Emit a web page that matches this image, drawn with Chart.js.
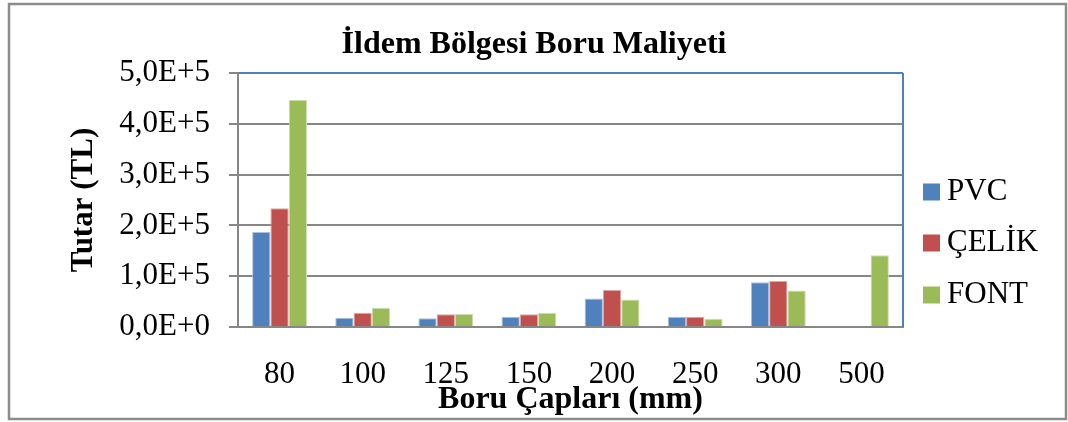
<!DOCTYPE html>
<html lang="tr">
<head>
    <title>İldem Bölgesi Boru Maliyeti</title>
    <meta charset="utf-8">
    <style>
        html, body { margin: 0; padding: 0; background: #ffffff; }
        #wrap { position: absolute; left: 0; top: 0; width: 1068px; height: 422px; }
    </style>
</head>
<body>
    <div id="wrap">
        <canvas id="boruChart" width="1068" height="422"></canvas>
    </div>

    <script src="https://cdn.jsdelivr.net/npm/chart.js"></script>
    <script>
        // Veriler
        const categories = ['80', '100', '125', '150', '200', '250', '300', '500'];
        const seriesNames = ['PVC', 'ÇELİK', 'FONT'];
        const pvc = [187000, 18000, 17000, 20000, 56000, 20000, 88000, null];
        const celik = [234000, 28000, 25000, 25000, 73000, 20000, 90500, null];
        const font = [447500, 38000, 26000, 28000, 54000, 16000, 72000, 141000];
        const yMin = 0;
        const yMax = 500000;
        const yStep = 100000;

        const colors = ['#4f81bd', '#c0504d', '#9bbb59'];
        const edges = ['#a9c1de', '#dea7a6', '#cfdfb0'];
        const serif = 'Liberation Serif, Times New Roman, serif';

        // 5,0E+5 gibi bilimsel yazim
        function sciLabel(v) {
            if (v === 0) return '0,0E+0';
            const e = Math.floor(Math.log10(v));
            const m = v / Math.pow(10, e);
            return m.toFixed(1).replace('.', ',') + 'E+' + e;
        }

        // dis cerceve + sag kenar + elle lejant
        const frame = {
            id: 'frame',
            beforeDraw(chart) {
                const c = chart.ctx;
                c.save();
                c.strokeStyle = '#8c8c8c';
                c.lineWidth = 2.5;
                c.strokeRect(9, 4, 1057, 415);
                c.restore();
            },
            beforeDatasetsDraw(chart) {
                const a = chart.chartArea;
                const c = chart.ctx;
                c.save();
                c.strokeStyle = '#4f81bd';
                c.lineWidth = 2;
                c.beginPath();
                c.moveTo(a.right, a.top);
                c.lineTo(a.right, a.bottom);
                c.stroke();
                c.restore();
            },
            afterDraw(chart) {
                const c = chart.ctx;
                const rows = [192, 243, 295];
                c.save();
                c.font = '31px ' + serif;
                c.textBaseline = 'middle';
                chart.data.datasets.forEach((ds, i) => {
                    c.fillStyle = ds.backgroundColor;
                    c.fillRect(923, rows[i] - 8.5, 17, 17);
                    c.fillStyle = '#000000';
                    c.fillText(ds.label, 947, rows[i]);
                });
                c.restore();
            }
        };

        const datasets = [pvc, celik, font].map((vals, i) => ({
            label: seriesNames[i],
            data: vals,
            backgroundColor: colors[i],
            borderColor: edges[i],
            borderWidth: 1,
            categoryPercentage: 0.66,
            barPercentage: 1.0
        }));

        new Chart(document.getElementById('boruChart'), {
            type: 'bar',
            data: {
                labels: categories,
                datasets: datasets
            },
            plugins: [frame],
            options: {
                responsive: false,
                animation: false,
                layout: {
                    padding: 0
                },
                plugins: {
                    legend: { display: false },
                    tooltip: { enabled: false },
                    title: {
                        display: true,
                        text: 'İldem Bölgesi Boru Maliyeti',
                        color: '#000000',
                        font: { family: serif, size: 32, weight: 'bold' },
                        padding: { top: 25.8, bottom: 8.8 }
                    }
                },
                scales: {
                    x: {
                        grid: { display: false, drawTicks: false, tickLength: 0 },
                        border: { display: true, color: '#878787', width: 2 },
                        ticks: {
                            color: '#000000',
                            padding: 29.4,
                            maxRotation: 0,
                            font: { family: serif, size: 31 }
                        },
                        title: {
                            display: true,
                            text: 'Boru Çapları (mm)',
                            color: '#000000',
                            font: { family: serif, size: 32, weight: 'bold' },
                            padding: { top: 0, bottom: 2.8 }
                        },
                        afterFit(scale) { scale.height = 95; }
                    },
                    y: {
                        min: yMin,
                        max: yMax,
                        grid: {
                            color: ctx => (ctx.tick && ctx.tick.value === yMax) ? '#4f81bd' : '#878787',
                            tickColor: '#878787',
                            lineWidth: 2,
                            tickLength: 9
                        },
                        border: { display: true, color: '#878787', width: 2 },
                        ticks: {
                            stepSize: yStep,
                            color: '#000000',
                            padding: 19,
                            font: { family: serif, size: 31 },
                            callback: v => sciLabel(v)
                        },
                        title: {
                            display: true,
                            text: 'Tutar (TL)',
                            color: '#000000',
                            font: { family: serif, size: 31, weight: 'bold' },
                            padding: { top: 65.4, bottom: 0 }
                        },
                        afterFit(scale) { scale.width = 238; }
                    },
                    // lejant icin bos yer birakan gorunmez eksen
                    legendSpace: {
                        type: 'linear',
                        position: 'right',
                        grid: { display: false, drawTicks: false },
                        border: { display: false },
                        ticks: { display: false },
                        afterFit(scale) { scale.width = 165; }
                    }
                }
            }
        });
    </script>
</body>
</html>
